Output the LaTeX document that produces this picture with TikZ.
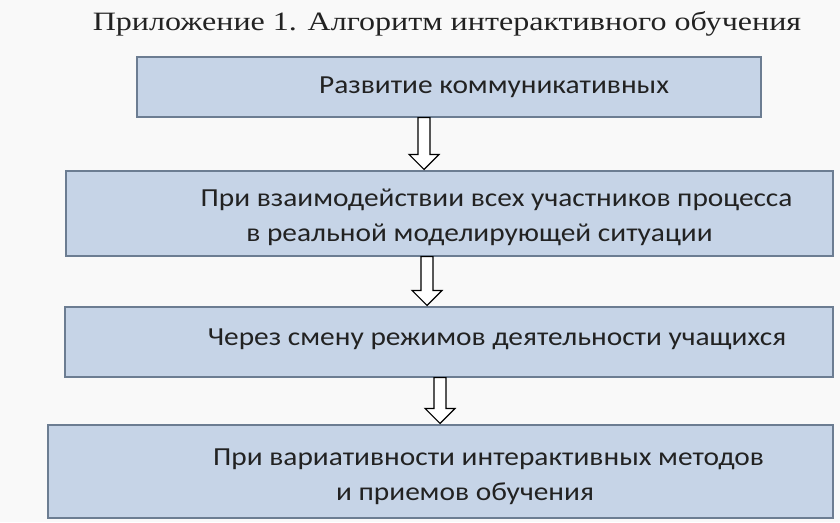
\documentclass[tikz,border=0pt]{standalone}
\usepackage{fontspec}
\setmainfont{Liberation Serif}
\newfontfamily\titlefont[FakeStretch=1.21]{Liberation Serif}
\newfontfamily\boxfont[FakeStretch=1.13]{Carlito}
\usepackage{xcolor}
\usetikzlibrary{positioning,calc,arrows.meta}

\definecolor{boxfill}{HTML}{C6D4E7}
\definecolor{boxedge}{HTML}{6C7D92}
\definecolor{pagebg}{HTML}{F9F9F9}
\definecolor{inktext}{HTML}{222222}

\tikzset{
  stagebox/.style={draw=boxedge, fill=boxfill, line width=1.2pt, rectangle, inner sep=0pt},
  stagetext/.style={font={\boxfont\fontsize{26}{35}\selectfont}, text=inktext, align=center},
  hollowarrow/.style={draw=black, fill=white, line width=1.2pt, line join=miter}
}

\newcommand{\flowarrow}[3]{%
  \draw[hollowarrow] let \p1=(#2.south), \p2=(#3.north) in
    (#1-6,\y1) -- (#1+6,\y1) -- (#1+6,\y2+16pt) -- (#1+15,\y2+16pt) -- (#1,\y2+1pt)
    -- (#1-15,\y2+16pt) -- (#1-6,\y2+16pt) -- cycle;}

\begin{document}
\begin{tikzpicture}[x=1pt, y=1pt]
    \fill[pagebg] (0,0) rectangle (840,-522);
    \useasboundingbox (0,0) rectangle (840,-522);

    \node[font={\titlefont\fontsize{26.5}{30}\selectfont}, text=inktext] (title) at (447,-24) {Приложение 1. Алгоритм интерактивного обучения};

    \node[stagebox, minimum width=624pt, minimum height=60pt] (comm) at (449,-87) {};
    \node[stagebox, minimum width=767pt, minimum height=85pt] (inter) at (449.5,-213.5) {};
    \node[stagebox, minimum width=768pt, minimum height=70pt] (modes) at (449,-342) {};
    \node[stagebox, minimum width=785pt, minimum height=93pt] (vary) at (440.5,-471.5) {};

    \node[stagetext] (commtext) at ([xshift=45pt]comm.center) {Развитие коммуникативных};
    \node[stagetext] (intertext) at ([xshift=47pt, yshift=-4pt]inter.center) {При взаимодействии всех участников процесса\\в реальной моделирующей ситуации\hspace*{34pt}};
    \node[stagetext] (modestext) at ([xshift=48pt, yshift=3pt]modes.center) {Через смену режимов деятельности учащихся};
    \node[stagetext] (varytext) at ([xshift=48pt, yshift=-5pt]vary.center) {При вариативности интерактивных методов\\и приемов обучения\hspace*{47pt}};

    \flowarrow{424}{comm}{inter}
    \flowarrow{427}{inter}{modes}
    \flowarrow{440}{modes}{vary}
\end{tikzpicture}
\end{document}
